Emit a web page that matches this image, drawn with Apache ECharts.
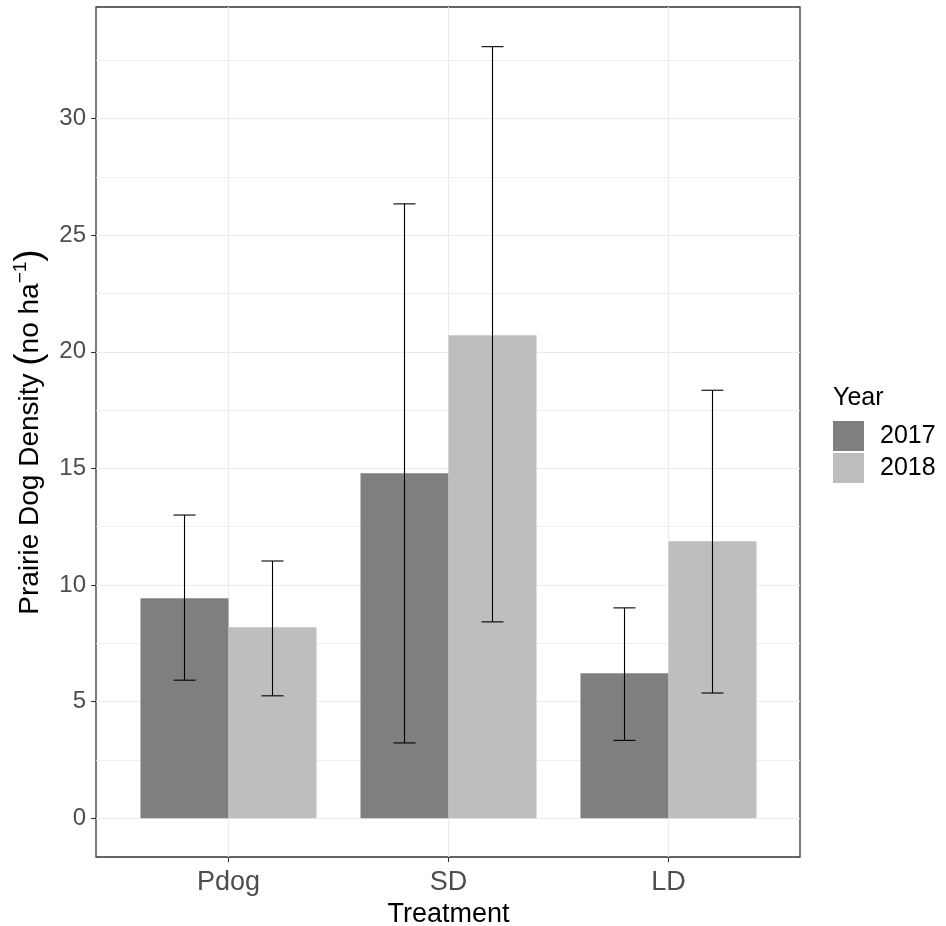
<!DOCTYPE html>
<html><head><meta charset="utf-8">
<script src="https://cdn.jsdelivr.net/npm/echarts@6/dist/echarts.min.js"></script>
<style>html,body{margin:0;padding:0;background:#fff}#c{width:946px;height:926px}</style>
</head><body><div id="c"></div>
<script>
const categories = ['Pdog', 'SD', 'LD'];
const years = ['2017', '2018'];
const mean2017 = [9.43, 14.79, 6.22];
const mean2018 = [8.19, 20.71, 11.88];
const lower2017 = [5.92, 3.23, 3.34];
const upper2017 = [13.0, 26.34, 9.02];
const lower2018 = [5.25, 8.42, 5.37];
const upper2018 = [11.03, 33.08, 18.35];
const yTicks = [0, 5, 10, 15, 20, 25, 30];
const yMinorTicks = [2.5, 7.5, 12.5, 17.5, 22.5, 27.5, 32.5];
const yMin = -1.66, yMax = 34.78;

const FONT = '"Liberation Sans", Arial, Helvetica, sans-serif';
const chart = echarts.init(document.getElementById('c'), null, {renderer: 'canvas'});

function errData(lo, hi) { return lo.map((l, i) => [i, l, hi[i]]); }
function errRender(sign) {
  return function (params, api) {
    const band = api.size([1, 0])[0];
    const off = sign * band * 0.2;
    const cap = band * 0.05;
    const x = api.coord([api.value(0), 0])[0] + off;
    const yl = api.coord([api.value(0), api.value(1)])[1];
    const yh = api.coord([api.value(0), api.value(2)])[1];
    const st = {stroke: '#000', lineWidth: 1.1};
    return {type: 'group', children: [
      {type: 'line', shape: {x1: x, y1: yl, x2: x, y2: yh}, style: st},
      {type: 'line', shape: {x1: x - cap, y1: yh, x2: x + cap, y2: yh}, style: st},
      {type: 'line', shape: {x1: x - cap, y1: yl, x2: x + cap, y2: yl}, style: st}
    ]};
  };
}

const option = {
  animation: false,
  backgroundColor: '#fff',
  title: {text: 'Year', left: 833, top: 386, padding: 0,
    textStyle: {fontSize: 25, fontWeight: 'normal', color: '#000', fontFamily: FONT}},
  legend: {orient: 'vertical', left: 833, top: 421, itemWidth: 31, itemHeight: 30, itemGap: 2,
    padding: 0, icon: 'rect', data: years, selectedMode: false,
    textStyle: {fontSize: 25, color: '#000', fontFamily: FONT, padding: [0, 0, 0, 11]}},
  grid: [
    {left: 96, top: 7, width: 704, height: 850, show: true, borderColor: '#333', borderWidth: 1.3, backgroundColor: 'transparent', containLabel: false, outerBoundsMode: 'none'},
    {left: 118.5, top: 7, width: 660, height: 850, containLabel: false, outerBoundsMode: 'none'},
    {left: 228.5, top: 7, width: 440, height: 850, containLabel: false, outerBoundsMode: 'none'}
  ],
  xAxis: [
    {gridIndex: 0, type: 'value', min: 0, max: 1, axisLine: {show: false, onZero: false}, axisTick: {show: false}, axisLabel: {show: false}, splitLine: {show: false}},
    {gridIndex: 1, type: 'category', data: categories, position: 'bottom',
      axisLine: {show: false, onZero: false},
      axisTick: {show: true, alignWithLabel: true, length: 5, lineStyle: {color: '#333', width: 1.1}},
      axisLabel: {fontSize: 27, color: '#4d4d4d', margin: 12, fontFamily: FONT},
      splitLine: {show: false},
      name: 'Treatment', nameLocation: 'middle', nameGap: 37,
      nameTextStyle: {fontSize: 27, color: '#000', fontFamily: FONT}},
    {gridIndex: 2, type: 'category', data: categories, boundaryGap: false,
      axisLine: {show: false, onZero: false}, axisTick: {show: false}, axisLabel: {show: false},
      splitLine: {show: true, lineStyle: {color: '#ebebeb', width: 1.1}}}
  ],
  yAxis: [
    {gridIndex: 0, type: 'value', min: yMin, max: yMax,
      axisLine: {show: false, onZero: false},
      axisTick: {show: true, length: 5, customValues: yTicks, lineStyle: {color: '#333', width: 1.1}},
      axisLabel: {customValues: yTicks, fontSize: 24, color: '#4d4d4d', margin: 10, fontFamily: FONT, padding: [7, 0, 0, 0]},
      splitLine: {show: true, lineStyle: {color: '#ebebeb', width: 1.1}},
      name: 'Prairie Dog Density {p|(}no ha{sup|\u22121}{p|)}', nameLocation: 'middle', nameGap: 35, nameRotate: 90,
      nameTextStyle: {fontSize: 28, color: '#000', fontFamily: FONT,
        rich: {p: {fontSize: 37, color: '#000', fontFamily: FONT},
               sup: {fontSize: 19, color: '#000', fontFamily: FONT, padding: [0, 0, 18, 0]}}}},
    {gridIndex: 0, type: 'value', min: yMin, max: yMax, position: 'left',
      axisLine: {show: false, onZero: false},
      axisTick: {show: false, customValues: yMinorTicks},
      axisLabel: {show: false, customValues: yMinorTicks},
      splitLine: {show: true, lineStyle: {color: '#ebebeb', width: 0.8}}},
    {gridIndex: 1, type: 'value', min: yMin, max: yMax, axisLine: {show: false, onZero: false}, axisTick: {show: false}, axisLabel: {show: false}, splitLine: {show: false}},
    {gridIndex: 2, type: 'value', min: yMin, max: yMax, axisLine: {show: false, onZero: false}, axisTick: {show: false}, axisLabel: {show: false}, splitLine: {show: false}}
  ],
  series: [
    {name: '2017', type: 'bar', xAxisIndex: 1, yAxisIndex: 2, data: mean2017, barWidth: '40%', barGap: '0%',
      itemStyle: {color: '#7f7f7f'}, z: 2},
    {name: '2018', type: 'bar', xAxisIndex: 1, yAxisIndex: 2, data: mean2018, barWidth: '40%', barGap: '0%',
      itemStyle: {color: '#bebebe'}, z: 2},
    {type: 'custom', xAxisIndex: 1, yAxisIndex: 2, data: errData(lower2017, upper2017), renderItem: errRender(-1), z: 3},
    {type: 'custom', xAxisIndex: 1, yAxisIndex: 2, data: errData(lower2018, upper2018), renderItem: errRender(1), z: 3}
  ]
};
chart.setOption(option);
</script>
</body></html>
